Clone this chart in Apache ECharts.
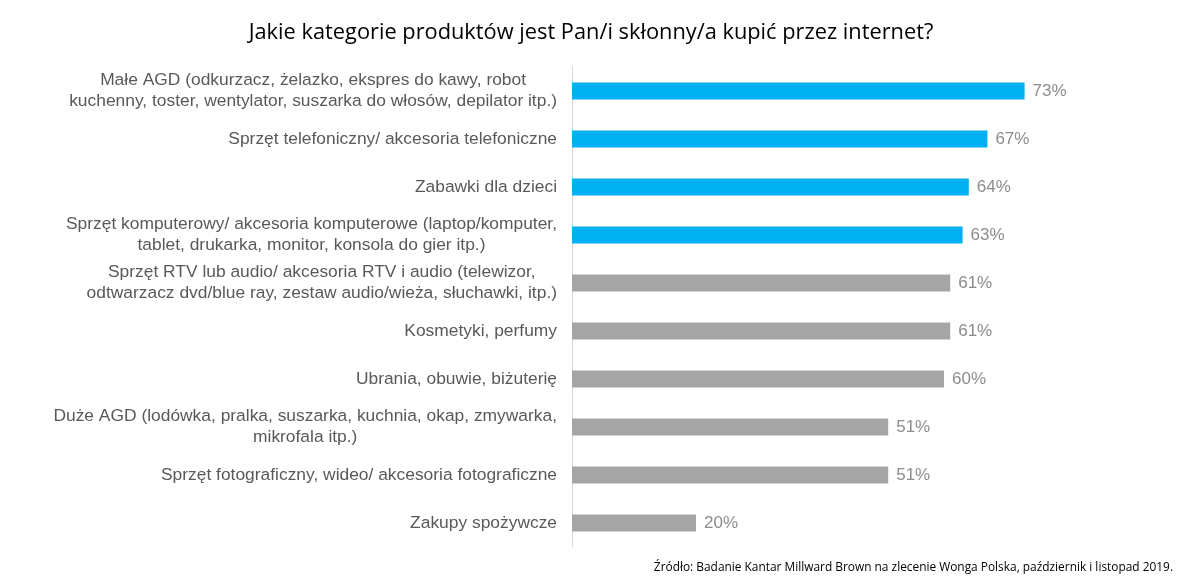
<!DOCTYPE html>
<html lang="pl">
<head>
    <meta charset="UTF-8">
    <title>Kategorie produktów</title>
    <script src="https://cdn.jsdelivr.net/npm/echarts@6/dist/echarts.min.js"></script>
    <style>
        html, body { margin: 0; padding: 0; background: #fff; }
        #chart { width: 1182px; height: 587px; }
    </style>
</head>
<body>
    <div id="chart"></div>
    <script>
        var kategorie = [
            'Małe AGD (odkurzacz, żelazko, ekspres do kawy, robot\nkuchenny, toster, wentylator, suszarka do włosów, depilator itp.)',
            'Sprzęt telefoniczny/ akcesoria telefoniczne',
            'Zabawki dla dzieci',
            'Sprzęt komputerowy/ akcesoria komputerowe (laptop/komputer,\ntablet, drukarka, monitor, konsola do gier itp.)',
            'Sprzęt RTV lub audio/ akcesoria RTV i audio (telewizor,\nodtwarzacz dvd/blue ray, zestaw audio/wieża, słuchawki, itp.)',
            'Kosmetyki, perfumy',
            'Ubrania, obuwie, biżuterię',
            'Duże AGD (lodówka, pralka, suszarka, kuchnia, okap, zmywarka,\nmikrofala itp.)',
            'Sprzęt fotograficzny, wideo/ akcesoria fotograficzne',
            'Zakupy spożywcze'
        ];
        var wartosci = [73, 67, 64, 63, 61, 61, 60, 51, 51, 20];
        var wyroznione = 4; // pierwsze 4 na niebiesko

        var chart = echarts.init(document.getElementById('chart'));

        chart.setOption({
            animation: false,
            title: [{
                text: 'Jakie kategorie produktów jest Pan/i skłonny/a kupić przez internet?',
                left: 'center',
                top: 17,
                textStyle: { fontFamily: 'Open Sans', fontSize: 21.8, fontWeight: 'normal', color: '#000' }
            }, {
                text: 'Źródło: Badanie Kantar Millward Brown na zlecenie Wonga Polska, październik i listopad 2019.',
                right: 4,
                top: 557,
                textStyle: { fontFamily: 'Open Sans', fontSize: 11.9, fontWeight: 'normal', color: '#000' }
            }],
            grid: { left: 572, top: 67, width: 496, height: 480 },
            xAxis: {
                type: 'value',
                min: 0,
                max: 80,
                show: false
            },
            yAxis: {
                type: 'category',
                inverse: true,
                data: kategorie,
                axisLine: { show: true, lineStyle: { color: '#d9d9d9' } },
                axisTick: { show: false },
                axisLabel: {
                    margin: 15,
                    align: 'right',
                    // wiersze wyśrodkowane względem siebie
                    formatter: function (v) {
                        return v.split('\n').map(function (l) { return '{c|' + l + '}'; }).join('\n');
                    },
                    rich: {
                        c: {
                            align: 'center',
                            fontFamily: 'Liberation Sans',
                            fontSize: 17.4,
                            lineHeight: 21,
                            color: '#595959'
                        }
                    }
                }
            },
            series: [{
                type: 'bar',
                data: wartosci,
                barWidth: 17,
                itemStyle: {
                    color: function (p) { return p.dataIndex < wyroznione ? '#00b0f0' : '#a5a5a5'; }
                },
                label: {
                    show: true,
                    position: 'right',
                    distance: 8,
                    formatter: '{c}%',
                    fontFamily: 'Liberation Sans',
                    fontSize: 17,
                    color: '#8c8c8c'
                }
            }]
        });
    </script>
</body>
</html>
